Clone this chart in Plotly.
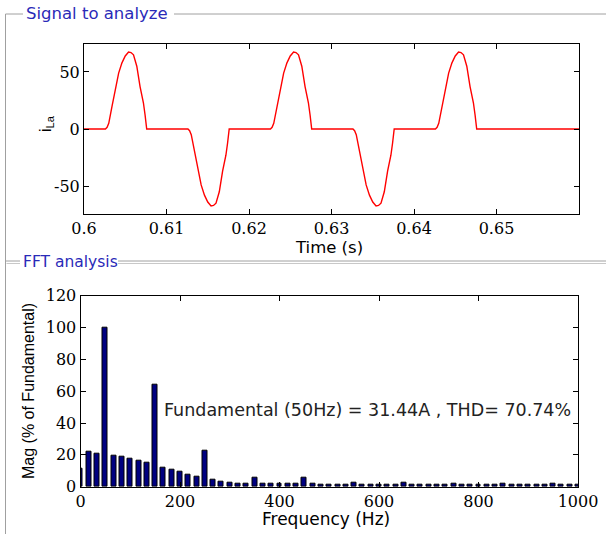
import plotly.graph_objects as go

# ---------------- data ----------------
# Signal to analyze (time in s, current i_La in A)
sig_t = [0.6000,
         0.6026, 0.6028, 0.6030, 0.6034, 0.6038, 0.6042, 0.6046, 0.6050, 0.6054, 0.6057, 0.6060, 0.6064, 0.6068, 0.6072, 0.6074, 0.6076,
         0.6126, 0.6128, 0.6130, 0.6134, 0.6138, 0.6142, 0.6146, 0.6150, 0.6154, 0.6157, 0.6160, 0.6164, 0.6168, 0.6172, 0.6174, 0.6176,
         0.6226, 0.6228, 0.6230, 0.6234, 0.6238, 0.6242, 0.6246, 0.6250, 0.6254, 0.6257, 0.6260, 0.6264, 0.6268, 0.6272, 0.6274, 0.6276,
         0.6326, 0.6328, 0.6330, 0.6334, 0.6338, 0.6342, 0.6346, 0.6350, 0.6354, 0.6357, 0.6360, 0.6364, 0.6368, 0.6372, 0.6374, 0.6376,
         0.6426, 0.6428, 0.6430, 0.6434, 0.6438, 0.6442, 0.6446, 0.6450, 0.6454, 0.6457, 0.6460, 0.6464, 0.6468, 0.6472, 0.6474, 0.6476,
         0.6600]
sig_i = [0,
         0, 1.5, 5, 20, 34.5, 49, 58, 64, 67.5, 67, 65, 55, 37, 23, 12.5, 0,
         0, -1.5, -5, -20, -34.5, -49, -58, -64, -67.5, -67, -65, -55, -37, -23, -12.5, 0,
         0, 1.5, 5, 20, 34.5, 49, 58, 64, 67.5, 67, 65, 55, 37, 23, 12.5, 0,
         0, -1.5, -5, -20, -34.5, -49, -58, -64, -67.5, -67, -65, -55, -37, -23, -12.5, 0,
         0, 1.5, 5, 20, 34.5, 49, 58, 64, 67.5, 67, 65, 55, 37, 23, 12.5, 0,
         0]

# FFT analysis: harmonic spectrum, bins every 50/3 Hz
fft_freq = [k * 50 / 3 for k in range(61)]
fft_mag = [11.5, 22, 21, 100, 19.5, 19, 17.5, 16.5, 15.3, 64,
           12, 10.8, 9.2, 7.8, 6.3, 22.5, 4.2, 3.4, 2.5, 1.9,
           1.9, 5.5, 2.0, 2.0, 2.0, 2.0, 2.0, 5.5, 1.6, 1.2,
           1.2, 1.2, 1.2, 2.6, 1.2, 1.2, 1.2, 1.2, 1.2, 2.6,
           1.0, 1.0, 1.0, 1.0, 1.0, 2.0, 1.0, 1.0, 1.0, 1.0,
           1.0, 2.0, 1.0, 1.0, 1.0, 1.0, 1.0, 2.0, 1.0, 1.0, 1.0]

top_xticks = [0.6, 0.61, 0.62, 0.63, 0.64, 0.65]
top_xlabels = ["0.6", "0.61", "0.62", "0.63", "0.64", "0.65"]
top_yticks = [-50, 0, 50]
top_ylabels = ["-50", "0", "50"]
bot_xticks = [0, 200, 400, 600, 800, 1000]
bot_yticks = [0, 20, 40, 60, 80, 100, 120]

info_text = "Fundamental (50Hz) = 31.44A , THD= 70.74%"

# ---------------- layout helpers ----------------
W, H = 606, 534
def px(x):
    return x / W
def py(y):
    return 1 - y / H

tick_font = dict(family="DejaVu Serif", size=16, color="#000")
lab_font = dict(family="DejaVu Sans", size=16.5, color="#000")

fig = go.Figure()
fig.add_trace(go.Scatter(x=sig_t, y=sig_i, mode="lines",
                         line=dict(color="#ff0000", width=1.4),
                         xaxis="x", yaxis="y", showlegend=False))
fig.add_trace(go.Bar(x=fft_freq, y=fft_mag, width=10,
                     marker=dict(color="#000080", line=dict(color="#000", width=1)),
                     xaxis="x2", yaxis="y2", showlegend=False))

axis_common = dict(showgrid=False, zeroline=False, showline=True, linecolor="#000",
                   linewidth=1, mirror="allticks", ticks="inside", ticklen=5,
                   tickcolor="#000", tickfont=tick_font, automargin=False)

fig.update_layout(
    width=W, height=H, margin=dict(l=0, r=0, t=0, b=0),
    paper_bgcolor="#fff", plot_bgcolor="#fff",
    bargap=0,
    xaxis=dict(domain=[px(84), px(579)], range=[0.6, 0.66], tickvals=top_xticks,
               ticktext=top_xlabels, anchor="y", **axis_common),
    yaxis=dict(domain=[py(214), py(44)], range=[-74.5, 74.5], tickvals=top_yticks,
               ticktext=top_ylabels, anchor="x", **axis_common),
    xaxis2=dict(domain=[px(80.5), px(578)], range=[0, 1000], tickvals=bot_xticks,
                anchor="y2", **axis_common),
    yaxis2=dict(domain=[py(486.7), py(295.7)], range=[0, 120], tickvals=bot_yticks,
                anchor="x2", **axis_common),
)

ann = []
ann.append(dict(text="Time (s)", x=px(329), y=py(247.5), xref="paper", yref="paper",
                showarrow=False, font=lab_font, xanchor="center", yanchor="middle"))
ann.append(dict(text="i<sub>La</sub>", x=px(46), y=py(124), xref="paper", yref="paper",
                showarrow=False, font=dict(family="Liberation Sans", size=16, color="#000"),
                textangle=-90, xanchor="center", yanchor="middle"))
ann.append(dict(text="Frequency (Hz)", x=px(326), y=py(519), xref="paper", yref="paper",
                showarrow=False, font=dict(family="DejaVu Sans", size=17, color="#000"),
                xanchor="center", yanchor="middle"))
ann.append(dict(text="Mag (% of Fundamental)", x=px(28), y=py(391), xref="paper", yref="paper",
                showarrow=False, font=dict(family="Liberation Sans", size=16, color="#000"),
                textangle=-90, xanchor="center", yanchor="middle"))
ann.append(dict(text=info_text, x=163, y=48, xref="x2", yref="y2",
                showarrow=False, font=dict(family="DejaVu Sans", size=17.5, color="#222"),
                xanchor="left", yanchor="middle"))
grp_font = dict(family="DejaVu Sans", size=16.5, color="#2a2ab8")
ann.append(dict(text="Signal to analyze", x=px(24), y=py(14), xref="paper", yref="paper",
                showarrow=False, font=grp_font, xanchor="left", yanchor="middle"))
ann.append(dict(text="FFT analysis", x=px(21), y=py(262), xref="paper", yref="paper",
                showarrow=False, font=dict(family="DejaVu Sans", size=15.5, color="#2a2ab8"),
                xanchor="left", yanchor="middle"))
fig.update_layout(annotations=ann)

shapes = []
def seg(x0, y0, x1, y1, color="#a0a0a0", w=1):
    shapes.append(dict(type="line", xref="paper", yref="paper",
                       x0=px(x0), y0=py(y0), x1=px(x1), y1=py(y1),
                       line=dict(color=color, width=w)))
seg(5.5, 14, 5.5, 534)
seg(5.5, 14, 23, 14)
seg(174, 14, 606, 14)
seg(5.5, 261, 20, 261)
seg(118, 261, 606, 261)
seg(6.5, 263.5, 20, 263.5, color="#c8c8c8")
seg(118, 263.5, 606, 263.5, color="#c8c8c8")
fig.update_layout(shapes=shapes)

fig.write_html("out.html")
